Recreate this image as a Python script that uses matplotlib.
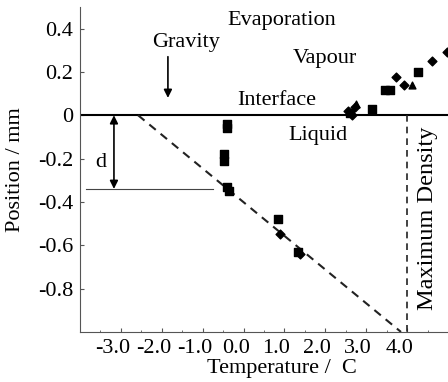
import numpy as np
import matplotlib
matplotlib.use('Agg')
import matplotlib.pyplot as plt
import matplotlib.transforms as mtransforms

plt.rcParams['font.family'] = ['Liberation Serif', 'DejaVu Serif']
plt.rcParams['font.size'] = 16

# data
sq_x = [-0.41, -0.41, -0.49, -0.47, -0.41, -0.35, 0.85, 1.34, 2.60, 3.15, 3.45, 3.58, 4.27]
sq_y = [-0.04, -0.06, -0.18, -0.21, -0.33, -0.35, -0.48, -0.63, 0.01, 0.03, 0.115, 0.115, 0.20]
dm_x = [0.90, 1.37, 2.55, 2.72, 2.65, 3.73, 3.93, 4.61, 4.98]
dm_y = [-0.55, -0.64, 0.02, 0.04, 0.0, 0.175, 0.14, 0.25, 0.29]
tr_x = [4.12, 2.75]
tr_y = [0.14, 0.05]

fit_x = [-2.58, 3.85]
fit_y = [0.0, -1.0]
max_density_t = 4.0
d_depth = -0.34

xticks = [-3.0, -2.0, -1.0, 0.0, 1.0, 2.0, 3.0, 4.0]
yticks = [0.4, 0.2, 0.0, -0.2, -0.4, -0.6, -0.8]
ytick_labels = ['0.4', '0.2', '0', '-0.2', '-0.4', '-0.6', '-0.8']

fig = plt.figure(figsize=(4.48, 3.82), dpi=100)
ax = fig.add_axes([0.1786, 0.131, 0.8214, 0.851])

ax.set_xlim(-4.0, 5.0)
ax.set_ylim(-1.0, 0.5)

ax.spines['top'].set_visible(False)
ax.spines['right'].set_visible(False)
ax.spines['left'].set_color('#555555')
ax.spines['bottom'].set_color('#555555')

ax.axhline(0, color='black', lw=1.5)
ax.plot(fit_x, fit_y, color='#222222', ls=(0, (4, 3)), lw=1.5)
ax.plot([max_density_t, max_density_t], [0, -1.0], color='#222222', ls=(0, (4, 3)), lw=1.2)

ax.scatter(sq_x, sq_y, marker='s', s=32, color='black', zorder=3)
ax.scatter(dm_x, dm_y, marker='D', s=20, color='black', zorder=3)
ax.scatter(tr_x, tr_y, marker='^', s=24, color='black', zorder=3)

# d annotation
ax.plot([-3.85, -0.75], [d_depth, d_depth], color='#444444', lw=0.8)
ax.annotate('', xy=(-3.17, d_depth), xytext=(-3.17, 0.0),
            arrowprops=dict(arrowstyle='<|-|>', color='black', lw=1.2, mutation_scale=12,
                            shrinkA=0, shrinkB=0))
ax.text(-3.5, -0.22, 'd', ha='center', va='center')

# gravity arrow
ax.annotate('', xy=(-1.85, 0.08), xytext=(-1.85, 0.27),
            arrowprops=dict(arrowstyle='-|>', color='black', lw=1.2, mutation_scale=12,
                            shrinkA=0, shrinkB=0))
ax.text(-1.41, 0.335, 'Gravity', ha='center', va='center')

ax.text(0.93, 0.437, 'Evaporation', ha='center', va='center')
ax.text(2.0, 0.262, 'Vapour', ha='center', va='center')
ax.text(0.8, 0.069, 'Interface', ha='center', va='center')
ax.text(1.83, -0.092, 'Liquid', ha='center', va='center')
ax.text(4.49, -0.474, 'Maximum Density', ha='center', va='center', rotation=90,
        fontsize=17.5)

ax.set_xticks(xticks)
ax.set_xticklabels([f'{t:.1f}' for t in xticks])
ax.set_xticks(np.arange(-4.0, 5.01, 0.5), minor=True)
ax.set_yticks(yticks)
ax.set_yticklabels(ytick_labels)
ax.tick_params(which='both', direction='in', color='#555555')
ax.tick_params(which='major', length=3)
ax.tick_params(which='minor', length=1.5)
ax.tick_params(axis='x', pad=5)
ax.tick_params(axis='y', pad=5)

shift = mtransforms.ScaledTranslation(-8 / 100, 0, fig.dpi_scale_trans)
for lab in ax.get_xticklabels():
    lab.set_transform(lab.get_transform() + shift)

ax.set_xlabel('Temperature /  C')
ax.xaxis.set_label_coords(0.549, -0.083)
ax.set_ylabel('Position / mm')
ax.yaxis.set_label_coords(-0.15, 0.5)

fig.savefig('out.png', dpi=100)
